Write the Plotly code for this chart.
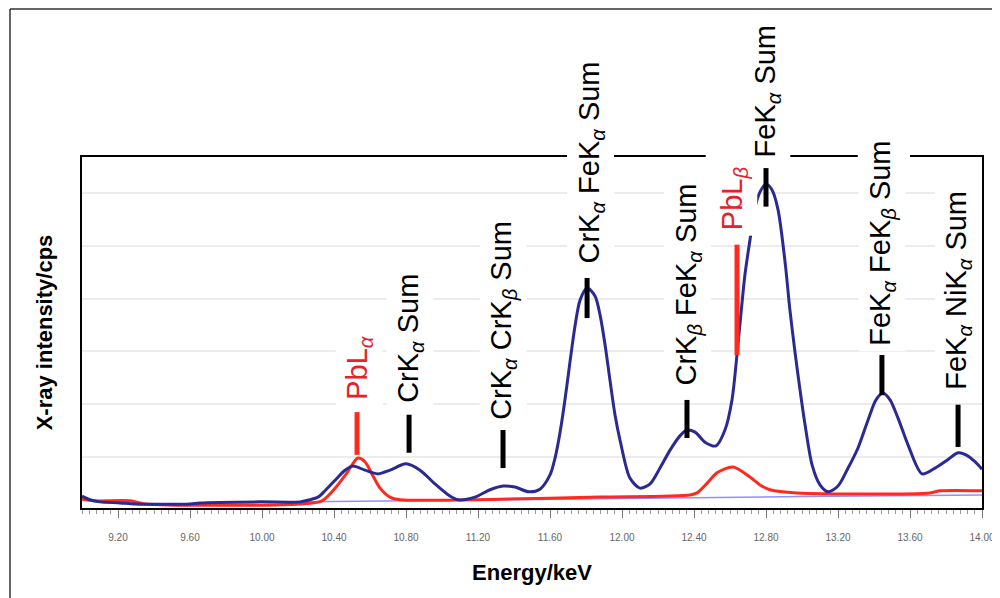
import plotly.graph_objects as go

# ---------------- data ----------------
energy_blue = [9.000, 9.044, 9.100, 9.211, 9.294, 9.600, 9.656, 9.989, 10.211, 10.267,
               10.311, 10.350, 10.406, 10.461, 10.506, 10.572, 10.644, 10.711, 10.800, 10.878,
               10.961, 11.044, 11.089, 11.183, 11.267, 11.339, 11.406, 11.483, 11.544, 11.600,
               11.628, 11.656, 11.683, 11.711, 11.739, 11.767, 11.806, 11.850, 11.878, 11.906,
               11.933, 11.961, 11.989, 12.044, 12.100, 12.156, 12.211, 12.267, 12.322, 12.361,
               12.406, 12.461, 12.522, 12.572, 12.611, 12.644, 12.683, 12.711, 12.739, 12.767,
               12.800, 12.833, 12.867, 12.906, 12.933, 12.961, 12.989, 13.017, 13.056, 13.100,
               13.144, 13.200, 13.256, 13.311, 13.367, 13.411, 13.450, 13.489, 13.533, 13.589,
               13.667, 13.739, 13.806, 13.867, 13.911, 13.961, 14.000]
intensity_blue = [26, 19, 15, 13, 11, 11, 13, 15, 15, 19,
                  24, 36, 56, 75, 83, 75, 68, 75, 87, 75,
                  49, 26, 19, 24, 38, 45, 43, 34, 39, 66,
                  98, 147, 208, 280, 348, 397, 420, 405, 369, 312,
                  246, 180, 132, 60, 41, 49, 79, 113, 140, 151,
                  147, 128, 121, 151, 208, 312, 445, 511, 572, 602,
                  617, 606, 568, 469, 378, 299, 227, 161, 85, 47,
                  34, 45, 79, 117, 170, 208, 221, 208, 174, 123,
                  68, 79, 94, 108, 104, 91, 77]

energy_red = [9.000, 9.072, 9.267, 9.350, 10.211, 10.333, 10.406, 10.472, 10.533, 10.572,
              10.611, 10.656, 10.711, 10.767, 11.322, 11.878, 12.378, 12.417, 12.472, 12.528,
              12.617, 12.711, 12.767, 12.822, 12.972, 13.711, 13.767, 14.000]
intensity_red = [20, 17, 17, 11, 11, 17, 41, 70, 98, 91,
                 68, 41, 24, 19, 20, 24, 28, 32, 50, 70,
                 81, 62, 47, 38, 32, 32, 36, 36]

energy_base = [10.25, 11.0, 12.0, 13.0, 14.0]
intensity_base = [15, 18, 22, 25, 28]

tick_vals = [9.2, 9.6, 10.0, 10.4, 10.8, 11.2, 11.6, 12.0, 12.4, 12.8, 13.2, 13.6, 14.0]
tick_text = ["9.20", "9.60", "10.00", "10.40", "10.80", "11.20", "11.60", "12.00",
             "12.40", "12.80", "13.20", "13.60", "14.00"]

a, b = "<sub><i>α</i></sub>", "<sub><i>β</i></sub>"
label_text = ["PbL" + a, "CrK" + a + " Sum", "CrK" + a + " CrK" + b + " Sum",
              "CrK" + a + " FeK" + a + " Sum", "CrK" + b + " FeK" + a + " Sum",
              "PbL" + b, "FeK" + a + " Sum", "FeK" + a + " FeK" + b + " Sum",
              "FeK" + a + " NiK" + a + " Sum"]
label_is_pb = [True, False, False, False, False, True, False, False, False]
label_x = [10.539, 10.822, 11.339, 11.828, 12.367, 12.622, 12.806, 13.444, 13.867]
label_y = [196, 192, 158, 455, 224, 518, 656, 300, 215]
marker_x = [10.528, 10.817, 11.339, 11.806, 12.361, 12.639, 12.800, 13.444, 13.867]
marker_top = [185, 180, 151, 439, 208, 502, 647, 293, 199]
marker_bottom = [104, 108, 79, 363, 136, 293, 574, 217, 119]

FONT = "Liberation Sans, Arial, Helvetica, sans-serif"
RED = "#ff2a1f"
RED_TXT = "#e3222b"
NAVY = "#2b2a92"

fig = go.Figure()
fig.add_trace(go.Scatter(x=energy_base, y=intensity_base, mode="lines",
                         line=dict(color="#8f8fff", width=1.5), hoverinfo="skip"))
fig.add_trace(go.Scatter(x=energy_red, y=intensity_red, mode="lines",
                         line=dict(color=RED, width=3, shape="spline", smoothing=0.8)))
fig.add_trace(go.Scatter(x=energy_blue, y=intensity_blue, mode="lines",
                         line=dict(color=NAVY, width=3, shape="spline", smoothing=0.8)))

shapes = []
for x, y0, y1, pb in zip(marker_x, marker_bottom, marker_top, label_is_pb):
    shapes.append(dict(type="line", xref="x", yref="y", x0=x, x1=x, y0=y0, y1=y1,
                       line=dict(color=RED if pb else "black", width=5), layer="above"))
# white breaks in the top frame line
for x0, x1 in [(0.693, 0.744), (0.862, 0.92)]:
    shapes.append(dict(type="rect", xref="paper", yref="paper", x0=x0, x1=x1,
                       y0=0.99, y1=1.01, fillcolor="white", line=dict(width=0), layer="above"))
# outer frame (left and top edges visible)
shapes.append(dict(type="line", xref="paper", yref="paper", x0=-0.08, x1=1.05,
                   y0=1.4217, y1=1.4217, line=dict(color="#333", width=1.5)))
shapes.append(dict(type="line", xref="paper", yref="paper", x0=-0.08, x1=-0.08,
                   y0=-0.35, y1=1.4217, line=dict(color="#333", width=1.5)))

annotations = []
for t, x, y, pb in zip(label_text, label_x, label_y, label_is_pb):
    annotations.append(dict(text=t, x=x, y=y, xref="x", yref="y", showarrow=False,
                            textangle=-90, xanchor="center", yanchor="bottom",
                            bgcolor="white", borderpad=5,
                            font=dict(family=FONT, size=29, color=RED_TXT if pb else "black")))

fig.update_layout(
    width=1000, height=598,
    margin=dict(l=74, r=26, t=149, b=98),
    paper_bgcolor="white", plot_bgcolor="white",
    showlegend=False,
    shapes=shapes, annotations=annotations,
    font=dict(family=FONT),
)
fig.update_xaxes(
    range=[9.0, 14.0], tickvals=tick_vals, ticktext=tick_text,
    ticks="outside", ticklen=8, tickwidth=1, tickcolor="#777",
    minor=dict(tick0=9.0, dtick=0.04, ticks="outside", ticklen=4, tickcolor="#999"),
    tickfont=dict(family="Liberation Sans Narrow, Arial Narrow, sans-serif", size=10, color="#666"),
    ticklabelstandoff=11,
    showline=True, linecolor="black", linewidth=1.5, mirror=True,
    showgrid=False, zeroline=False,
    title=dict(text="<b>Energy/keV</b>", font=dict(family=FONT, size=22, color="black"), standoff=23),
)
fig.update_yaxes(
    range=[3.4, 668], tick0=0, dtick=100, showticklabels=False, ticks="",
    showgrid=True, gridcolor="#ececec", gridwidth=2,
    showline=True, linecolor="black", linewidth=1.5, mirror=True,
    zeroline=False,
    title=dict(text="<b>X-ray intensity/cps</b>", font=dict(family=FONT, size=22, color="black"), standoff=22),
)

fig.write_html("out.html")
